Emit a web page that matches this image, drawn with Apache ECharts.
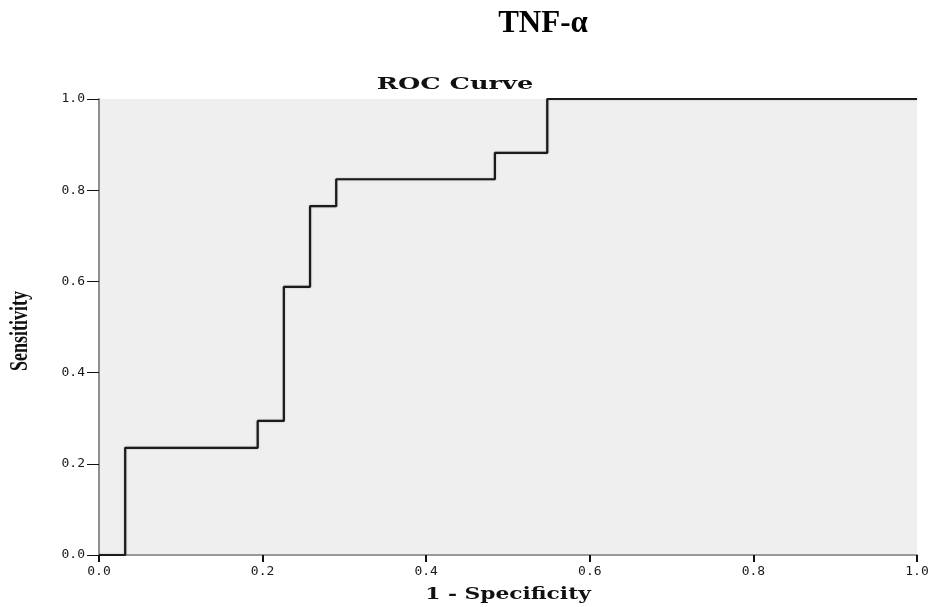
<!DOCTYPE html>
<html>
<head>
<meta charset="utf-8">
<title>TNF-α ROC Curve</title>
<script src="https://cdn.jsdelivr.net/npm/echarts@6/dist/echarts.min.js"></script>
<style>
  html, body { margin: 0; padding: 0; background: #ffffff; }
  #chart { width: 937px; height: 607px; }
</style>
</head>
<body>
<div id="chart"></div>
<script>
// ROC coordinates: each point is where the curve moves right, then steps up
const specificityComplement = [0, 0.032, 0.194, 0.226, 0.258, 0.290, 0.484, 0.548, 1.0];
const sensitivity = [0, 0.235, 0.294, 0.588, 0.765, 0.824, 0.882, 1.0, 1.0];
const axisTicks = [0, 0.2, 0.4, 0.6, 0.8, 1.0];

const chartTitle = 'TNF-α';
const plotTitle = 'ROC Curve';
const xAxisName = '1 - Specificity';
const yAxisName = 'Sensitivity';

const rocPoints = specificityComplement.map((x, i) => [x, sensitivity[i]]);

const chart = echarts.init(document.getElementById('chart'), null, { renderer: 'canvas' });

const tickLabel = {
  color: '#1a1a1a',
  fontFamily: '"DejaVu Sans Mono", monospace',
  fontSize: 13,
  formatter: v => v.toFixed(1)
};

chart.setOption({
  backgroundColor: '#ffffff',
  animation: false,
  grid: {
    left: 99, right: 20, top: 99, bottom: 52,
    show: true,
    backgroundColor: '#efefef',
    borderWidth: 0
  },
  xAxis: {
    type: 'value',
    min: axisTicks[0],
    max: axisTicks[axisTicks.length - 1],
    interval: axisTicks[1] - axisTicks[0],
    axisLine: { show: true, lineStyle: { color: '#9a9a9a', width: 2 } },
    axisTick: { show: true, length: 7, lineStyle: { color: '#111111', width: 2 } },
    axisLabel: Object.assign({ margin: 10 }, tickLabel),
    splitLine: { show: false }
  },
  yAxis: {
    type: 'value',
    min: axisTicks[0],
    max: axisTicks[axisTicks.length - 1],
    interval: axisTicks[1] - axisTicks[0],
    axisLine: { show: true, lineStyle: { color: '#8f8f8f', width: 2 } },
    axisTick: { show: true, length: 12, lineStyle: { color: '#111111', width: 1 } },
    axisLabel: Object.assign({ margin: 14 }, tickLabel),
    splitLine: { show: false }
  },
  series: [{
    type: 'line',
    data: rocPoints,
    step: 'end',
    symbol: 'none',
    lineStyle: { color: '#1b1b1b', width: 2.2, shadowColor: 'rgba(0,0,0,0.35)', shadowBlur: 1.5 },
    z: 3
  }],
  graphic: [
    {
      type: 'text',
      x: 543, y: 24,
      style: {
        text: chartTitle,
        font: 'bold 31px "Liberation Serif", "Times New Roman", serif',
        fill: '#000000',
        align: 'center',
        verticalAlign: 'middle'
      }
    },
    {
      type: 'text',
      x: 455, y: 85,
      scaleX: 1.6,
      style: {
        text: plotTitle,
        font: 'bold 16px "DejaVu Serif", serif',
        fill: '#111111',
        align: 'center',
        verticalAlign: 'middle'
      }
    },
    {
      type: 'text',
      x: 508, y: 595,
      scaleX: 1.36,
      style: {
        text: xAxisName,
        font: 'bold 16px "DejaVu Serif", serif',
        fill: '#111111',
        align: 'center',
        verticalAlign: 'middle'
      }
    },
    {
      type: 'text',
      x: 21, y: 331,
      rotation: Math.PI / 2,
      scaleY: 1.35,
      style: {
        text: yAxisName,
        font: 'bold 18px "Liberation Serif", "Times New Roman", serif',
        fill: '#111111',
        align: 'center',
        verticalAlign: 'middle'
      }
    }
  ]
});
</script>
</body>
</html>
